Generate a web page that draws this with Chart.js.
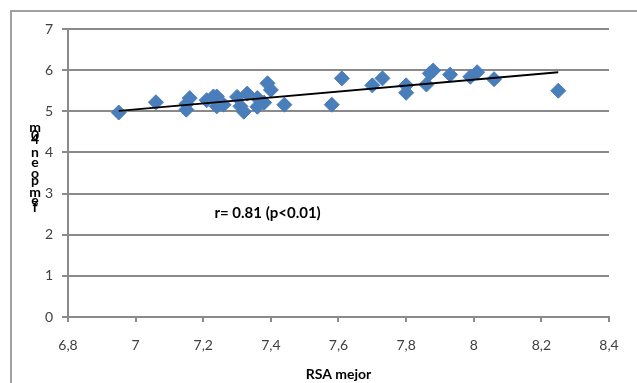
<!DOCTYPE html>
<html>
<head>
<meta charset="utf-8">
<script src="https://cdn.jsdelivr.net/npm/chart.js@4/dist/chart.umd.min.js"></script>
<style>
  html, body { margin: 0; padding: 0; background: #ffffff; }
  #wrap { position: relative; width: 637px; height: 383px; }
</style>
</head>
<body>
<div id="wrap"><canvas id="c" width="637" height="383"></canvas></div>
<script>
// ---- data ----
const xValues = [6.95, 7.06, 7.15, 7.16, 7.15, 7.21, 7.23, 7.24, 7.24, 7.26,
                 7.30, 7.31, 7.32, 7.33, 7.36, 7.36, 7.38, 7.39, 7.40, 7.44,
                 7.58, 7.61, 7.70, 7.73, 7.80, 7.80, 7.86, 7.87, 7.88, 7.93,
                 7.99, 8.01, 8.06, 8.25];
const yValues = [4.97, 5.22, 5.04, 5.32, 5.18, 5.27, 5.36, 5.12, 5.36, 5.16,
                 5.35, 5.12, 4.99, 5.43, 5.32, 5.11, 5.21, 5.68, 5.52, 5.16,
                 5.16, 5.80, 5.63, 5.80, 5.63, 5.45, 5.65, 5.92, 5.99, 5.89,
                 5.84, 5.95, 5.78, 5.50];
const trendX = [6.95, 8.25];
const trendY = [5.01, 5.95];
const xTicks = [6.8, 7.0, 7.2, 7.4, 7.6, 7.8, 8.0, 8.2, 8.4];
const yTicks = [0, 1, 2, 3, 4, 5, 6, 7];
const xTitle = "RSA mejor";
const yTitle = "m04neopmef";
const annotation = "r= 0.81 (p<0.01)";

const FONT = "Lato, 'Liberation Sans', sans-serif";
const GRID = "#8a8a8a";
const TEXT = "#404040";

const points = xValues.map((x, i) => ({ x: x, y: yValues[i] }));
const trend = trendX.map((x, i) => ({ x: x, y: trendY[i] }));

const decorPlugin = {
  id: 'decor',
  beforeDraw(chart) {
    const ctx = chart.ctx;
    ctx.save();
    ctx.fillStyle = '#ffffff';
    ctx.fillRect(0, 0, chart.width, chart.height);
    ctx.strokeStyle = '#a0a0a0';
    ctx.lineWidth = 2;
    ctx.strokeRect(11, 11, 800, 600);
    ctx.restore();
  },
  afterDraw(chart) {
    const ctx = chart.ctx;
    const xs = chart.scales.x, ys = chart.scales.y;
    ctx.save();
    // annotation text
    ctx.fillStyle = '#000000';
    ctx.font = "bold 15px " + FONT;
    ctx.textBaseline = 'middle';
    ctx.textAlign = 'left';
    ctx.fillText(annotation, xs.getPixelForValue(7.233), ys.getPixelForValue(2.53));
    // stacked y-axis title letters
    ctx.font = "bold 14px " + FONT;
    ctx.textAlign = 'center';
    ctx.fillStyle = '#000000';
    const offs = [0, 8, 12, 25, 35, 46, 53, 65, 73, 80];
    const top = 127;
    for (let i = 0; i < yTitle.length; i++) {
      ctx.fillText(yTitle[i], 35, top + offs[i]);
    }
    ctx.restore();
  }
};

new Chart(document.getElementById('c'), {
  data: {
    datasets: [
      {
        type: 'scatter',
        data: points,
        pointStyle: 'rectRot',
        pointRadius: 7.5,
        pointHoverRadius: 7.5,
        backgroundColor: '#4a7ebb',
        borderColor: '#4a7ebb',
        borderWidth: 1,
        order: 2
      },
      {
        type: 'line',
        data: trend,
        borderColor: '#000000',
        borderWidth: 2,
        pointRadius: 0,
        fill: false,
        order: 1
      }
    ]
  },
  options: {
    responsive: false,
    animation: false,
    events: [],
    layout: { padding: { left: 0, right: 28, top: 29, bottom: 0 } },
    plugins: { legend: { display: false }, tooltip: { enabled: false } },
    scales: {
      x: {
        type: 'linear',
        min: 6.8, max: 8.4,
        afterBuildTicks(scale) { scale.ticks = xTicks.map(v => ({ value: v })); },
        afterFit(scale) { scale.height = 66; },
        ticks: {
          font: { family: FONT, size: 14 },
          color: TEXT,
          padding: 15,
          maxRotation: 0,
          callback: v => String(Math.round(v * 10) / 10).replace('.', ',')
        },
        grid: { drawOnChartArea: false, drawTicks: true, tickLength: 5, color: GRID, lineWidth: 2 },
        border: { display: true, color: GRID, width: 2 },
        title: {
          display: true, text: xTitle, color: '#000000',
          font: { family: FONT, size: 14, weight: 'bold' },
          padding: { top: 0, bottom: 0 }
        }
      },
      y: {
        type: 'linear',
        min: 0, max: 7,
        afterBuildTicks(scale) { scale.ticks = yTicks.map(v => ({ value: v })); },
        afterFit(scale) { scale.width = 68; },
        ticks: {
          font: { family: FONT, size: 14 },
          color: TEXT,
          padding: 9
        },
        grid: { drawOnChartArea: true, drawTicks: true, tickLength: 6, color: GRID, lineWidth: 2 },
        border: { display: true, color: GRID, width: 2 }
      }
    }
  },
  plugins: [decorPlugin]
});
</script>
</body>
</html>
